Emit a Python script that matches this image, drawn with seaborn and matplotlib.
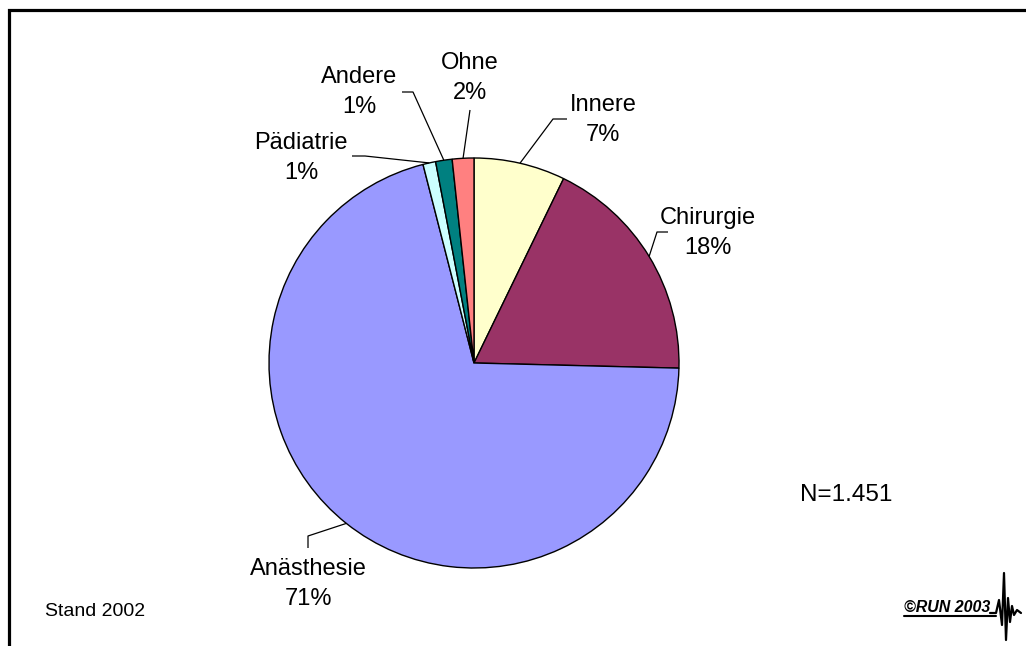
import numpy as np
import matplotlib
matplotlib.use("Agg")
import matplotlib.pyplot as plt
import seaborn as sns

# ---- data ----
categories = ["Innere", "Chirurgie", "Anästhesie", "Pädiatrie", "Andere", "Ohne"]
shares = [7.2, 18.2, 70.6, 1.0, 1.3, 1.7]
colors_hex = ["#FFFFCC", "#993366", "#9999FF", "#CCFFFF", "#008080", "#FF8080"]
n_total = "N=1.451"
stand_text = "Stand 2002"
logo_text = "©RUN 2003"

sns.set_style("white")
plt.rcParams["font.family"] = ["Liberation Sans", "DejaVu Sans"]
plt.rcParams["text.color"] = "black"
palette = sns.color_palette(colors_hex)

W, H = 1026, 646
fig = plt.figure(figsize=(W / 100, H / 100), dpi=100)
ax = fig.add_axes([0, 0, 1, 1])

def Y(y):
    return H - y

cx, cy, R = 474, Y(363), 205
wedges, _ = ax.pie(shares, colors=palette, startangle=90, counterclock=False,
                   radius=R, center=(cx, cy),
                   wedgeprops=dict(edgecolor="black", linewidth=1.0))
ax.set_xlim(0, W)
ax.set_ylim(0, H)
ax.set_aspect("equal")
ax.axis("off")

# label layout (pixel positions of text centre and leader elbow)
label_pos = {
    "Innere": (603, 120, [(567, 119), (553, 119)]),
    "Chirurgie": (708, 233, [(668, 232), (657, 232)]),
    "Anästhesie": (308, 584, [(308, 548), (308, 536)]),
    "Pädiatrie": (301, 158, [(352, 156), (365, 156)]),
    "Andere": (359, 92, [(402, 92), (413, 92)]),
    "Ohne": (470, 78, [(470, 110)]),
}

for w, cat, val in zip(wedges, categories, shares):
    tx, ty, elbow = label_pos[cat]
    ax.text(tx, Y(ty), f"{cat}\n{round(val):d}%", ha="center", va="center",
            fontsize=17, linespacing=1.45, color="black")
    mid = np.deg2rad((w.theta1 + w.theta2) / 2)
    ex, ey = cx + R * np.cos(mid), cy + R * np.sin(mid)
    xs = [p[0] for p in elbow] + [ex]
    ys = [Y(p[1]) for p in elbow] + [ey]
    ax.plot(xs, ys, color="black", lw=0.9, solid_capstyle="butt", zorder=5)

ax.text(846, Y(495), n_total, ha="center", va="center", fontsize=17.5, color="black")
ax.text(95, Y(612), stand_text, ha="center", va="center", fontsize=14, color="black")

# frame
ax.plot([9, 9, W], [0, Y(10), Y(10)], color="black", lw=2.3,
        solid_joinstyle="miter", clip_on=False)

# logo
ax.text(904, Y(612), logo_text, ha="left", va="baseline", fontsize=11.5,
        fontweight="bold", fontstyle="italic", color="black")
ax.plot([904, 996], [Y(616), Y(616)], color="black", lw=1.5)
wave_x = [990, 996, 999, 1002, 1004, 1006, 1008, 1010, 1012, 1014, 1017, 1021]
wave_y = [613, 613, 600, 625, 573, 640, 598, 622, 606, 615, 610, 613]
ax.plot(wave_x, [Y(v) for v in wave_y], color="black", lw=1.6)

fig.savefig("out.png", dpi=100)
